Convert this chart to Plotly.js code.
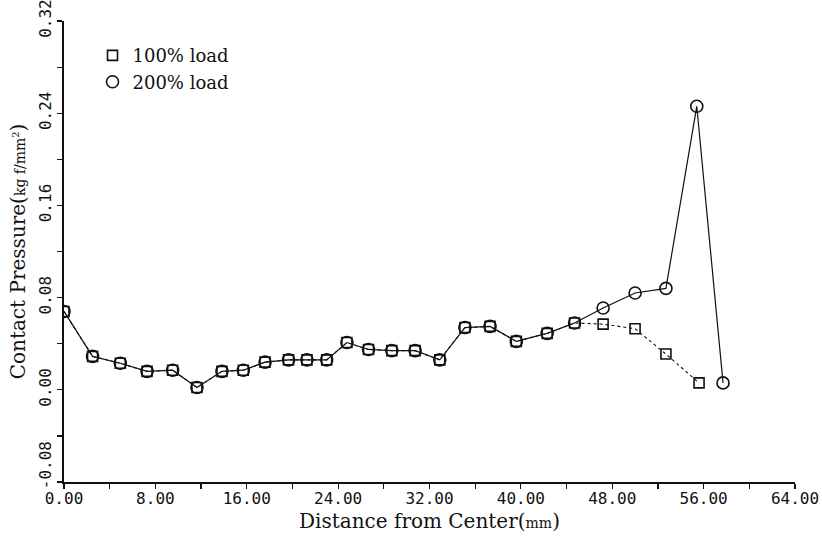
<!DOCTYPE html>
<html>
<head>
<meta charset="utf-8">
<script src="https://cdn.plot.ly/plotly-3.0.1.min.js"></script>
<style>html,body{margin:0;padding:0;background:#fff;}#chart{width:822px;height:540px;}</style>
</head>
<body>
<div id="chart"></div>
<script>
// distance from center (mm)
var x100 = [0, 2.5, 4.93, 7.27, 9.51, 11.64, 13.83, 15.7, 17.6, 19.66, 21.27, 23.0, 24.77, 26.66, 28.7, 30.74, 32.9, 35.1, 37.3, 39.6, 42.3, 44.7, 47.2, 50.0, 52.7, 55.6];
var y100 = [0.068, 0.029, 0.023, 0.016, 0.017, 0.002, 0.016, 0.017, 0.024, 0.026, 0.026, 0.026, 0.041, 0.035, 0.034, 0.034, 0.026, 0.054, 0.055, 0.042, 0.049, 0.058, 0.057, 0.053, 0.031, 0.006];
var x200 = [0, 2.5, 4.93, 7.27, 9.51, 11.64, 13.83, 15.7, 17.6, 19.66, 21.27, 23.0, 24.77, 26.66, 28.7, 30.74, 32.9, 35.1, 37.3, 39.6, 42.3, 44.7, 47.2, 50.0, 52.7, 55.4, 57.7];
var y200 = [0.068, 0.029, 0.023, 0.016, 0.017, 0.002, 0.016, 0.017, 0.024, 0.026, 0.026, 0.026, 0.041, 0.035, 0.034, 0.034, 0.026, 0.054, 0.055, 0.042, 0.049, 0.058, 0.071, 0.084, 0.088, 0.246, 0.006];
var seriesNames = ['100% load', '200% load'];
var xTickVals = [0, 8, 16, 24, 32, 40, 48, 56, 64];
var xTickText = ['0.00', '8.00', '16.00', '24.00', '32.00', '40.00', '48.00', '56.00', '64.00'];
var xMinorVals = [4, 12, 20, 28, 36, 44, 52, 60];
var yTickVals = [-0.08, 0, 0.08, 0.16, 0.24, 0.32];
var yTickText = ['\u00a0\u00a0\u00a0-0.08', '0.00', '0.08', '0.16', '0.24', '0.32'];
var yMinorVals = [-0.04, 0.04, 0.12, 0.20, 0.28];

var traces = [
  {x: x100, y: y100, mode: 'lines', showlegend: false, hoverinfo: 'skip',
   line: {color: '#111', width: 1.1, dash: 'dot'}},
  {x: x200, y: y200, mode: 'lines', showlegend: false, hoverinfo: 'skip',
   line: {color: '#111', width: 1.2}},
  {x: x100, y: y100, mode: 'markers', name: seriesNames[0],
   marker: {symbol: 'square-open', size: 10, color: '#111', line: {width: 1.6, color: '#111'}}},
  {x: x200, y: y200, xaxis: 'x2', mode: 'markers', name: seriesNames[1],
   marker: {symbol: 'circle-open', size: 12, color: '#111', line: {width: 1.6, color: '#111'}}}
];

var tickFont = {family: 'DejaVu Sans Mono, monospace', size: 16, color: '#111'};
var titleFont = {family: 'DejaVu Serif, serif', size: 20, color: '#111'};
var layout = {
  width: 822, height: 540,
  margin: {l: 64, r: 27, t: 21, b: 58},
  paper_bgcolor: '#fff', plot_bgcolor: '#fff',
  showlegend: true,
  legend: {x: 0.039, y: 0.965, xanchor: 'left', yanchor: 'top', bgcolor: 'rgba(0,0,0,0)',
           font: {family: 'DejaVu Serif, serif', size: 18, color: '#111'}, tracegroupgap: 0},
  xaxis: {
    range: [0, 64], tickvals: xTickVals, showticklabels: false,
    showline: true, linecolor: '#111', linewidth: 1.6, showgrid: false, zeroline: false,
    ticks: 'outside', ticklen: 5, tickwidth: 1.2, tickcolor: '#111',
    minor: {tickvals: xMinorVals, ticks: 'outside', ticklen: 5, tickwidth: 1.2, tickcolor: '#111'},
    title: {text: 'Distance from Center(<span style="font-size:14px">mm</span>)', font: titleFont, standoff: 26}
  },
  xaxis2: {
    overlaying: 'x', anchor: 'y', side: 'bottom',
    range: [0, 64], tickvals: xTickVals, ticktext: xTickText,
    showline: false, showgrid: false, zeroline: false, ticks: '',
    tickfont: tickFont, ticklabelstandoff: 5, ticklabeloverflow: 'allow'
  },
  yaxis: {
    range: [-0.08, 0.32], tickvals: yTickVals, ticktext: yTickText, tickangle: -90,
    showline: true, linecolor: '#111', linewidth: 1.6, showgrid: false, zeroline: false,
    ticks: 'outside', ticklen: 5, tickwidth: 1.2, tickcolor: '#111',
    minor: {tickvals: yMinorVals, ticks: 'outside', ticklen: 5, tickwidth: 1.2, tickcolor: '#111'},
    tickfont: tickFont, ticklabelstandoff: 0, ticklabeloverflow: 'allow',
    title: {text: 'Contact Pressure(<span style="font-size:14px">kg f/mm<sup>2</sup></span>)', font: titleFont, standoff: 5}
  }
};
Plotly.newPlot('chart', traces, layout, {staticPlot: true, displayModeBar: false});
</script>
</body>
</html>
